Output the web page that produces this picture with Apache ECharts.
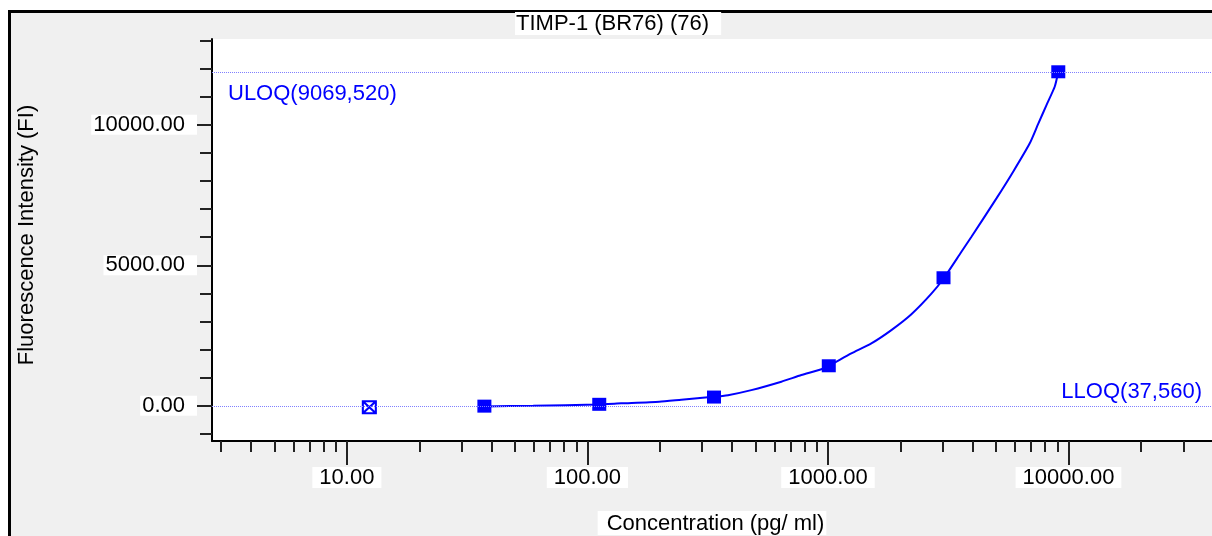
<!DOCTYPE html>
<html>
<head>
<meta charset="utf-8">
<script src="https://cdn.jsdelivr.net/npm/echarts@6/dist/echarts.min.js"></script>
<style>
  html, body { margin: 0; padding: 0; background: #fff; }
  #chart { width: 1212px; height: 536px; }
</style>
</head>
<body>
<div id="chart"></div>
<script>
// Texts
const titleText = 'TIMP-1 (BR76) (76)';
const xAxisName = 'Concentration (pg/ ml)';
const yAxisName = 'Fluorescence Intensity (FI)';
const uloqText = 'ULOQ(9069,520)';
const lloqText = 'LLOQ(37,560)';

// Standards: expected concentration (pg/ml) and measured FI
const stdConc = [37.3, 112, 336, 1008, 3023, 9069];
const stdFI = [-10, 55, 313, 1426, 4557, 11884];

// Standard left out of the fit
const excludedConc = [12.4];
const excludedFI = [-50];

// Fitted standard curve
const curveConc = [37.3, 59.5, 109.8, 138.2, 198.9, 245.6, 333.7, 384.1, 480.1, 640.2,
  775.2, 938.7, 1010.6, 1251, 1515, 1835, 2223, 2692, 3041, 3588, 3950, 5018, 5888,
  6902, 7482, 8100, 8770, 9069];
const curveFI = [-20, 5, 50, 90, 150, 220, 320, 380, 560, 860,
  1095, 1300, 1430, 1867, 2223, 2696, 3260, 3990, 4557, 5480, 6015, 7380, 8330,
  9340, 10030, 10700, 11360, 11884];

// Axis ticks
const xMajorTicks = [10, 100, 1000, 10000];
const xMinorTicks = [3, 4, 5, 6, 7, 8, 9, 20, 30, 40, 50, 60, 70, 80, 90,
  200, 300, 400, 500, 600, 700, 800, 900, 2000, 3000, 4000, 5000, 6000, 7000, 8000, 9000,
  20000, 30000];
const yMajorTicks = [0, 5000, 10000];
const yMinorTicks = [-1000, 1000, 2000, 3000, 4000, 6000, 7000, 8000, 9000, 11000, 12000, 13000];

const FONT = '"Liberation Sans", Arial, sans-serif';
const BLUE = '#0000ff';
const xRange = [2.75, 39500];
const yRange = [-1250, 13050];

const pairs = (xs, ys) => xs.map((x, i) => [x, ys[i]]);

const chart = echarts.init(document.getElementById('chart'), null, { renderer: 'canvas' });

chart.setOption({
  animation: false,
  backgroundColor: '#fff',
  graphic: [{
    type: 'rect', z: -10, silent: true,
    shape: { x: 9.5, y: 11.5, width: 1400, height: 700 },
    style: { fill: '#f0f0f0', stroke: '#000', lineWidth: 3 }
  }],
  title: {
    text: titleText, left: 515, top: 14,
    padding: [1, 12, 0, 1], backgroundColor: '#fff',
    textStyle: { fontFamily: FONT, fontSize: 22, fontWeight: 'normal', color: '#000', lineHeight: 18 }
  },
  grid: {
    left: 212, right: 0, top: 39, bottom: 95,
    show: true, backgroundColor: '#fff', borderWidth: 0,
    outerBoundsMode: 'none'
  },
  xAxis: [{
    type: 'log', logBase: 10, min: xRange[0], max: xRange[1], position: 'bottom',
    name: xAxisName, nameLocation: 'middle', nameGap: 70,
    nameTextStyle: { fontFamily: FONT, fontSize: 22, color: '#000', backgroundColor: '#fff',
      padding: [2, 2, 0, 9], lineHeight: 22 },
    axisLine: { show: true, onZero: false, lineStyle: { color: '#000', width: 2 } },
    axisTick: { show: true, inside: false, length: 24, customValues: xMajorTicks,
      lineStyle: { color: '#222', width: 2 } },
    axisLabel: { show: true, customValues: xMajorTicks, margin: 26,
      formatter: v => Number(v).toFixed(2),
      fontFamily: FONT, fontSize: 22, color: '#000', backgroundColor: '#fff',
      padding: [1, 7, 0, 7], lineHeight: 20 },
    splitLine: { show: false }, minorTick: { show: false }
  }, {
    type: 'log', logBase: 10, min: xRange[0], max: xRange[1], position: 'bottom',
    axisLine: { show: false, onZero: false },
    axisTick: { show: true, inside: false, length: 11, customValues: xMinorTicks,
      lineStyle: { color: '#222', width: 2 } },
    axisLabel: { show: false },
    splitLine: { show: false }
  }],
  yAxis: [{
    type: 'value', min: yRange[0], max: yRange[1], position: 'left',
    name: yAxisName, nameLocation: 'middle', nameGap: 174, nameRotate: 90,
    nameTextStyle: { fontFamily: FONT, fontSize: 22, color: '#000', padding: [0, 0, 0, 10] },
    axisLine: { show: true, onZero: false, lineStyle: { color: '#000', width: 2 } },
    axisTick: { show: true, inside: false, length: 15, customValues: yMajorTicks,
      lineStyle: { color: '#222', width: 2 } },
    axisLabel: { show: true, customValues: yMajorTicks, margin: 15,
      formatter: v => Number(v).toFixed(2),
      fontFamily: FONT, fontSize: 22, color: '#000', backgroundColor: '#fff',
      padding: [2, 12, 0, 2], lineHeight: 18 },
    splitLine: { show: false }
  }, {
    type: 'value', min: yRange[0], max: yRange[1], position: 'left',
    axisLine: { show: false, onZero: false },
    axisTick: { show: true, inside: false, length: 12, customValues: yMinorTicks,
      lineStyle: { color: '#222', width: 2 } },
    axisLabel: { show: false },
    splitLine: { show: false }
  }],
  series: [{
    name: 'Curve', type: 'line', xAxisIndex: 0, yAxisIndex: 0,
    data: pairs(curveConc, curveFI),
    showSymbol: false, symbol: 'none', z: 2, smooth: 0.2,
    lineStyle: { color: BLUE, width: 2 },
    markLine: {
      silent: true, symbol: 'none',
      lineStyle: { color: '#8080ff', type: 'dotted', width: 1 },
      label: { fontFamily: FONT, fontSize: 22, color: BLUE },
      data: [
        { yAxis: stdFI[stdFI.length - 1],
          label: { formatter: uloqText, position: 'insideStartBottom', distance: [16, 11] } },
        { yAxis: stdFI[0],
          label: { formatter: lloqText, position: 'insideEndTop', distance: [10, 3] } }
      ]
    }
  }, {
    name: 'Standards', type: 'scatter', xAxisIndex: 0, yAxisIndex: 0,
    data: pairs(stdConc, stdFI), z: 4,
    symbol: 'rect', symbolSize: [14, 13],
    itemStyle: { color: BLUE, opacity: 1 }
  }, {
    name: 'Excluded', type: 'scatter', xAxisIndex: 0, yAxisIndex: 0,
    data: pairs(excludedConc, excludedFI), z: 4,
    symbol: 'path://M0,0L10,0L10,10L0,10ZM0,0L10,10M10,0L0,10',
    symbolSize: [13, 12],
    itemStyle: { color: 'rgba(0,0,0,0)', borderColor: BLUE, borderWidth: 2, opacity: 1 }
  }]
});
</script>
</body>
</html>
